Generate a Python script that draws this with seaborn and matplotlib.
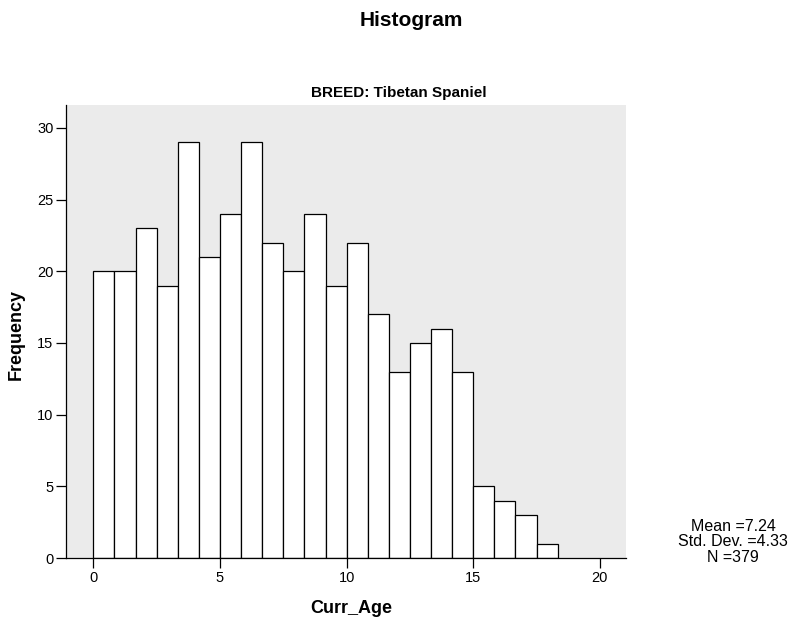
import numpy as np
import pandas as pd
import matplotlib
matplotlib.use("Agg")
import matplotlib.pyplot as plt
import seaborn as sns

# counts per age bin (bin width 5/6 year, starting at 0)
counts = [20, 20, 23, 19, 29, 21, 24, 29, 22, 20, 24, 19, 22, 17, 13, 15, 16, 13, 5, 4, 3, 1]
bin_width = 5 / 6
x_ticks = [0, 5, 10, 15, 20]
y_ticks = [0, 5, 10, 15, 20, 25, 30]
breed = "Tibetan Spaniel"
stats_text = "Mean =7.24\nStd. Dev. =4.33\nN =379"

edges = np.arange(len(counts) + 1) * bin_width
df = pd.DataFrame({"Curr_Age": edges[:-1] + bin_width / 2, "n": counts})

sns.set_style("ticks")
plt.rcParams["font.family"] = ["Liberation Sans", "DejaVu Sans"]
plt.rcParams["text.color"] = "black"

fig = plt.figure(figsize=(7.9, 6.18), dpi=100)
ax = fig.add_axes([66 / 790, 1 - 558 / 618, 560 / 790, 453 / 618])
ax.set_facecolor("#ebebeb")

sns.histplot(data=df, x="Curr_Age", weights="n", binwidth=bin_width,
             binrange=(0, edges[-1]), ax=ax,
             color="white", edgecolor="black", linewidth=0.9, alpha=1)

ax.set_xlim(-1.08, 21.03)
ax.set_ylim(0, 31.6)
ax.set_xticks(x_ticks)
ax.set_yticks(y_ticks)
ax.tick_params(length=7, width=0.9, labelsize=10.5, colors="black", pad=2)
for s in ["top", "right"]:
    ax.spines[s].set_visible(False)
for s in ["left", "bottom"]:
    ax.spines[s].set_linewidth(0.9)
    ax.spines[s].set_color("black")

ax.set_xlabel("Curr_Age", fontsize=13, fontweight="bold", color="black")
ax.set_ylabel("Frequency", fontsize=13, fontweight="bold", color="black")
ax.xaxis.set_label_coords(0.509, -0.093)
ax.yaxis.set_label_coords(-0.073, 0.494)

fig.text(411 / 790, 1 - 21 / 618, "Histogram", ha="center", va="center",
         fontsize=15, fontweight="bold")
fig.text(399 / 790, 1 - 93 / 618, "BREED: " + breed, ha="center", va="center",
         fontsize=11, fontweight="bold")
fig.text(733 / 790, 1 - 542 / 618, stats_text, ha="center", va="center",
         fontsize=11.5, linespacing=1.08)

fig.savefig("out.png", dpi=100)
